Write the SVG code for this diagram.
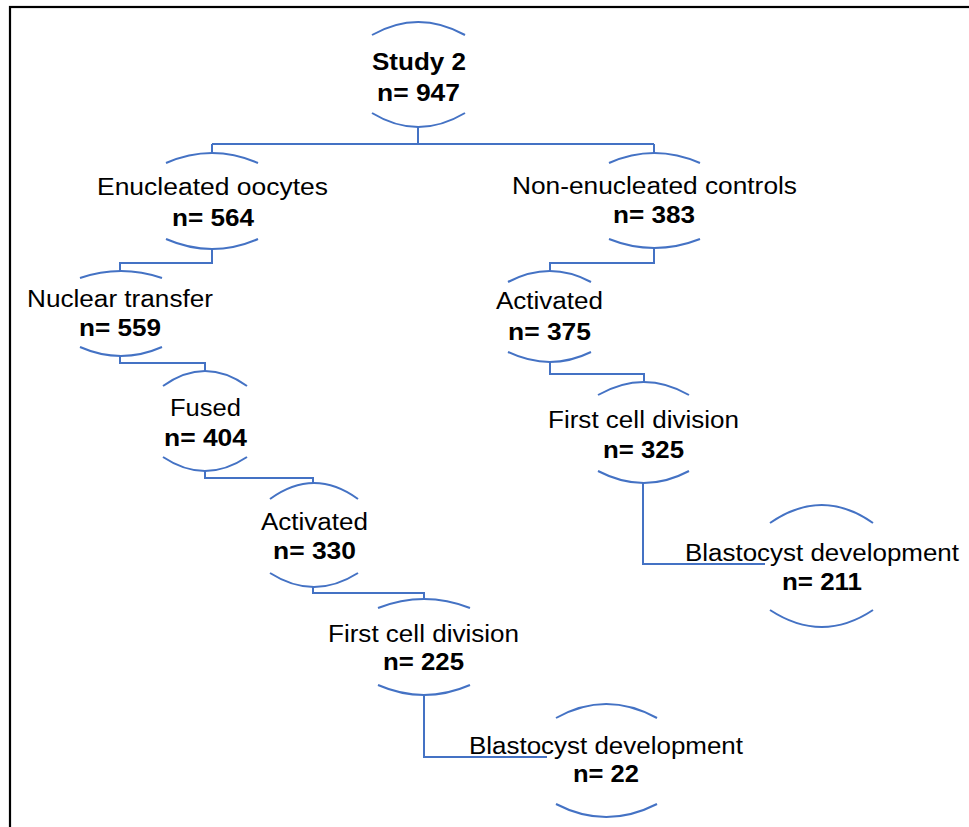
<svg xmlns="http://www.w3.org/2000/svg" width="969" height="827" viewBox="0 0 969 827">
<style>
.arc{fill:none;stroke:#4472C4;stroke-width:2}
.con{fill:none;stroke:#4472C4;stroke-width:2}
.t{font-family:"Liberation Sans",Arial,sans-serif;font-size:23px;fill:#000}
.b{font-weight:bold}
</style>
<rect x="0" y="0" width="969" height="827" fill="#fff"/>
<rect x="10" y="7" width="1000" height="1000" fill="none" stroke="#000" stroke-width="2.2"/>
<g id="connectors">
<path class="con" d="M418 127 V144 M212 144 H654 M212 144 V153 M654 144 V153"/>
<path class="con" d="M212 249 V263 H120 V271"/>
<path class="con" d="M120 356 V363 H205 V371"/>
<path class="con" d="M205 471 V478 H313 V483"/>
<path class="con" d="M313 587 V593 H424 V599"/>
<path class="con" d="M424 695 V757 H547"/>
<path class="con" d="M654 248 V263 H550 V271"/>
<path class="con" d="M550 362 V374 H644 V382"/>
<path class="con" d="M643 483 V564 H765"/>
</g>
<g id="study2">
<path class="arc" d="M372 35 Q418 9 465 35"/>
<path class="arc" d="M372 113 Q418 141 465 113"/>
<text class="t b" x="372" y="70" textLength="94" lengthAdjust="spacingAndGlyphs">Study 2</text>
<text class="t b" x="377" y="101" textLength="83" lengthAdjust="spacingAndGlyphs">n= 947</text>
</g>
<g id="enucleated">
<path class="arc" d="M166 163 Q212 143 258 163"/>
<path class="arc" d="M166 239 Q212 259 258 239"/>
<text class="t" x="97" y="195" textLength="231" lengthAdjust="spacingAndGlyphs">Enucleated  oocytes</text>
<text class="t b" x="172" y="226" textLength="82" lengthAdjust="spacingAndGlyphs">n= 564</text>
</g>
<g id="nuclear">
<path class="arc" d="M80 278 Q121 264 162 278"/>
<path class="arc" d="M80 347 Q121 365 162 347"/>
<text class="t" x="27" y="307" textLength="186" lengthAdjust="spacingAndGlyphs">Nuclear transfer</text>
<text class="t b" x="79" y="336" textLength="82" lengthAdjust="spacingAndGlyphs">n= 559</text>
</g>
<g id="fused">
<path class="arc" d="M163 386 Q205 356 247 386"/>
<path class="arc" d="M163 457 Q205 485 247 457"/>
<text class="t" x="170" y="416" textLength="71" lengthAdjust="spacingAndGlyphs">Fused</text>
<text class="t b" x="164" y="446" textLength="83" lengthAdjust="spacingAndGlyphs">n= 404</text>
</g>
<g id="activated-left">
<path class="arc" d="M270 499 Q314 467 358 499"/>
<path class="arc" d="M270 573 Q314 601 358 573"/>
<text class="t" x="261" y="530" textLength="107" lengthAdjust="spacingAndGlyphs">Activated</text>
<text class="t b" x="273" y="559" textLength="83" lengthAdjust="spacingAndGlyphs">n= 330</text>
</g>
<g id="firstcell-left">
<path class="arc" d="M378 608 Q424 590 470 608"/>
<path class="arc" d="M378 685 Q424 705 470 685"/>
<text class="t" x="328" y="642" textLength="191" lengthAdjust="spacingAndGlyphs">First cell division</text>
<text class="t b" x="383" y="670" textLength="81" lengthAdjust="spacingAndGlyphs">n= 225</text>
</g>
<g id="blastocyst-left">
<path class="arc" d="M556 718 Q606 690 657 718"/>
<path class="arc" d="M556 804 Q606 830 657 804"/>
<text class="t" x="469" y="754" textLength="274" lengthAdjust="spacingAndGlyphs">Blastocyst development</text>
<text class="t b" x="573" y="782" textLength="66" lengthAdjust="spacingAndGlyphs">n= 22</text>
</g>
<g id="nonenucleated">
<path class="arc" d="M609 163 Q654 143 700 163"/>
<path class="arc" d="M609 239 Q654 257 700 239"/>
<text class="t" x="512" y="194" textLength="285" lengthAdjust="spacingAndGlyphs">Non-enucleated  controls</text>
<text class="t b" x="613" y="223" textLength="82" lengthAdjust="spacingAndGlyphs">n= 383</text>
</g>
<g id="activated-right">
<path class="arc" d="M508 282 Q550 260 591 282"/>
<path class="arc" d="M508 352 Q550 372 591 352"/>
<text class="t" x="496" y="309" textLength="107" lengthAdjust="spacingAndGlyphs">Activated</text>
<text class="t b" x="508" y="340" textLength="83" lengthAdjust="spacingAndGlyphs">n= 375</text>
</g>
<g id="firstcell-right">
<path class="arc" d="M598 395 Q644 369 689 395"/>
<path class="arc" d="M598 471 Q644 495 689 471"/>
<text class="t" x="548" y="428" textLength="191" lengthAdjust="spacingAndGlyphs">First cell division</text>
<text class="t b" x="603" y="458" textLength="81" lengthAdjust="spacingAndGlyphs">n= 325</text>
</g>
<g id="blastocyst-right">
<path class="arc" d="M770 523 Q822 487 873 523"/>
<path class="arc" d="M770 610 Q822 644 873 610"/>
<text class="t" x="685" y="561" textLength="274" lengthAdjust="spacingAndGlyphs">Blastocyst development</text>
<text class="t b" x="782" y="590" textLength="80" lengthAdjust="spacingAndGlyphs">n= 211</text>
</g>
</svg>
